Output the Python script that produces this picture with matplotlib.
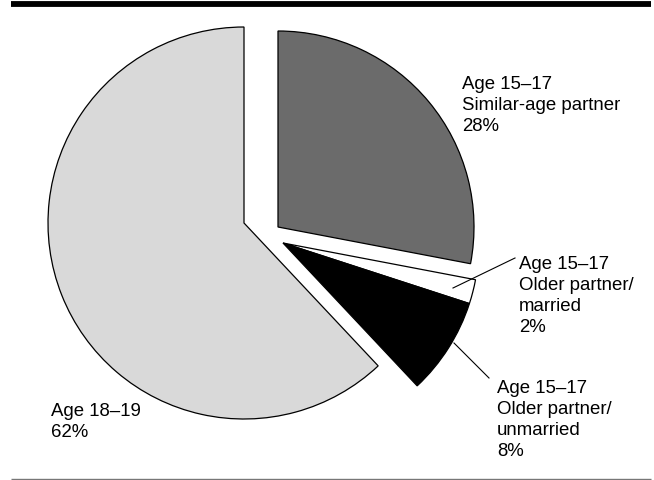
import numpy as np
import matplotlib
matplotlib.use('Agg')
import matplotlib.pyplot as plt

# shares of births by age group / partner type (clockwise from 12 o'clock)
labels = ['Age 15\u201317\nSimilar-age partner\n28%',
          'Age 15\u201317\nOlder partner/\nmarried\n2%',
          'Age 15\u201317\nOlder partner/\nunmarried\n8%',
          'Age 18\u201319\n62%']
shares = [28, 2, 8, 62]
colors = ['#6b6b6b', '#ffffff', '#000000', '#d9d9d9']

# layout (pixel coordinates, y pointing down)
pie_center = (244, 223)
pie_radius = 196
slice_offsets = [(34, 4), (39, 20), (39, 20), (0, 0)]
# x of label, baseline of the last label line
label_pos = [(462, 131), (519, 332), (497, 456), (51, 437)]
leaders = [None, ((453, 288), (515, 258)), ((454, 343), (489, 378)), None]

plt.rcParams['font.family'] = ['Liberation Sans', 'DejaVu Sans']

fig = plt.figure(figsize=(6.54, 4.8), dpi=100)
ax = fig.add_axes([0, 0, 1, 1])

# y axis is inverted, so startangle=-90 / counterclock=True runs clockwise from the top
wedges, _ = ax.pie(shares, colors=colors, startangle=-90, counterclock=True,
                   radius=pie_radius, center=pie_center,
                   wedgeprops=dict(edgecolor='black', linewidth=0.9))
for w, (dx, dy) in zip(wedges, slice_offsets):
    w.set_center((pie_center[0] + dx, pie_center[1] + dy))

for txt, (x, y) in zip(labels, label_pos):
    ax.text(x, y, txt, fontsize=13.4, ha='left', va='baseline', linespacing=1.3)

for ld in leaders:
    if ld is None:
        continue
    (x0, y0), (x1, y1) = ld
    ax.plot([x0, x1], [y0, y1], color='black', linewidth=0.8)

# rules at top and bottom
ax.plot([11, 651], [4, 4], color='black', linewidth=4.2, solid_capstyle='butt')
ax.plot([11, 651], [479, 479], color='#777777', linewidth=1.0, solid_capstyle='butt')

ax.set_xlim(0, 654)
ax.set_ylim(480, 0)
ax.set_aspect('equal')
ax.axis('off')

fig.savefig('out.png', dpi=100)
